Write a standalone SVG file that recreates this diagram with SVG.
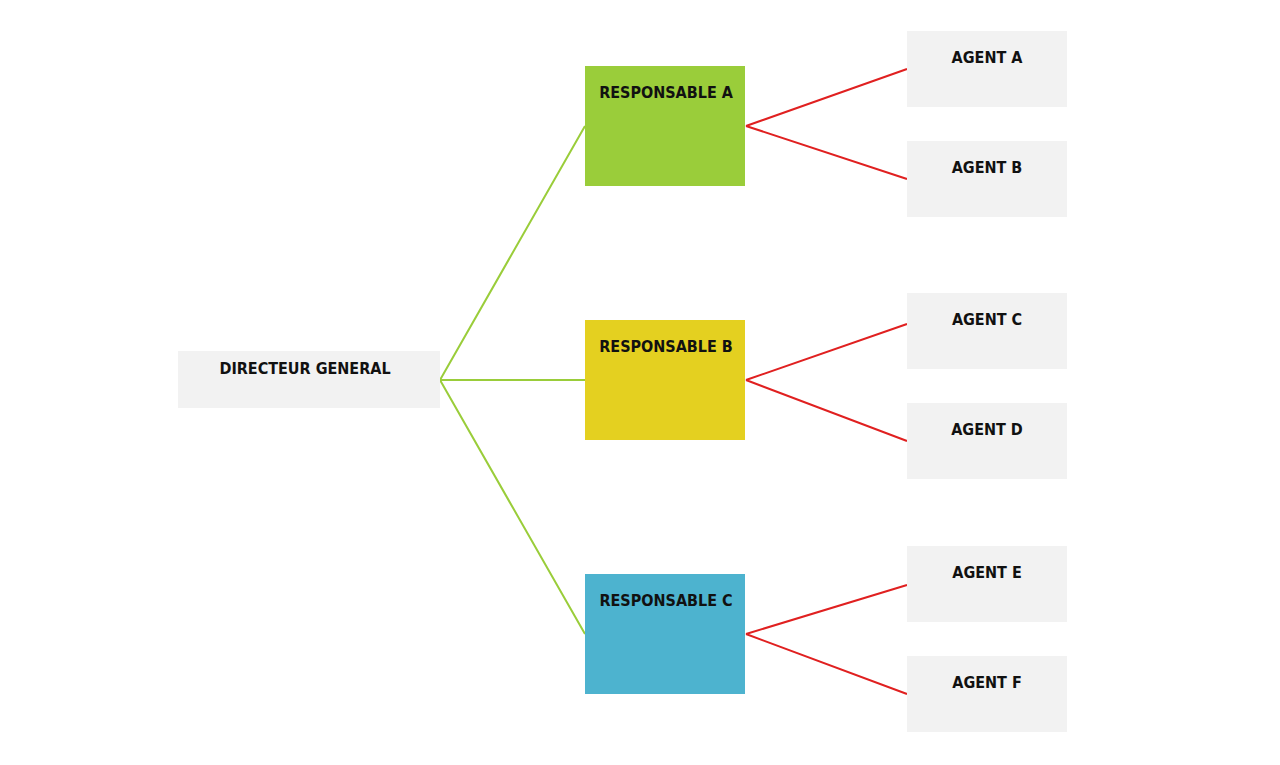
<svg xmlns="http://www.w3.org/2000/svg" width="1280" height="765" viewBox="0 0 1280 765">
<style>
.t{font-family:"DejaVu Sans Condensed","DejaVu Sans",sans-serif;font-stretch:condensed;font-weight:bold;font-size:16px;fill:#111;text-anchor:middle}
.g{fill:#f2f2f2}
.gl{stroke:#9acd3a;stroke-width:2;fill:none}
.rl{stroke:#e02020;stroke-width:2;fill:none}
</style>
<rect width="1280" height="765" fill="#fff"/>
<g id="connectors">
<path class="gl" d="M440 380L585 126M440 380L585 380M440 380L585 634"/>
<path class="rl" d="M746 126L907 69M746 126L907 179M746 380L907 324M746 380L907 441M746 634L907 585M746 634L907 694"/>
</g>
<g id="directeur"><rect class="g" x="178" y="351" width="262" height="57"/><text class="t" x="305" y="374">DIRECTEUR GENERAL</text></g>
<g id="respA"><rect x="585" y="66" width="160" height="120" fill="#9acd3a"/><text class="t" x="666" y="98">RESPONSABLE A</text></g>
<g id="respB"><rect x="585" y="320" width="160" height="120" fill="#e4d020"/><text class="t" x="666" y="352">RESPONSABLE B</text></g>
<g id="respC"><rect x="585" y="574" width="160" height="120" fill="#4db3cf"/><text class="t" x="666" y="606">RESPONSABLE C</text></g>
<g id="agentA"><rect class="g" x="907" y="31" width="160" height="76"/><text class="t" x="987" y="63">AGENT A</text></g>
<g id="agentB"><rect class="g" x="907" y="141" width="160" height="76"/><text class="t" x="987" y="173">AGENT B</text></g>
<g id="agentC"><rect class="g" x="907" y="293" width="160" height="76"/><text class="t" x="987" y="325">AGENT C</text></g>
<g id="agentD"><rect class="g" x="907" y="403" width="160" height="76"/><text class="t" x="987" y="435">AGENT D</text></g>
<g id="agentE"><rect class="g" x="907" y="546" width="160" height="76"/><text class="t" x="987" y="578">AGENT E</text></g>
<g id="agentF"><rect class="g" x="907" y="656" width="160" height="76"/><text class="t" x="987" y="688">AGENT F</text></g>
</svg>
